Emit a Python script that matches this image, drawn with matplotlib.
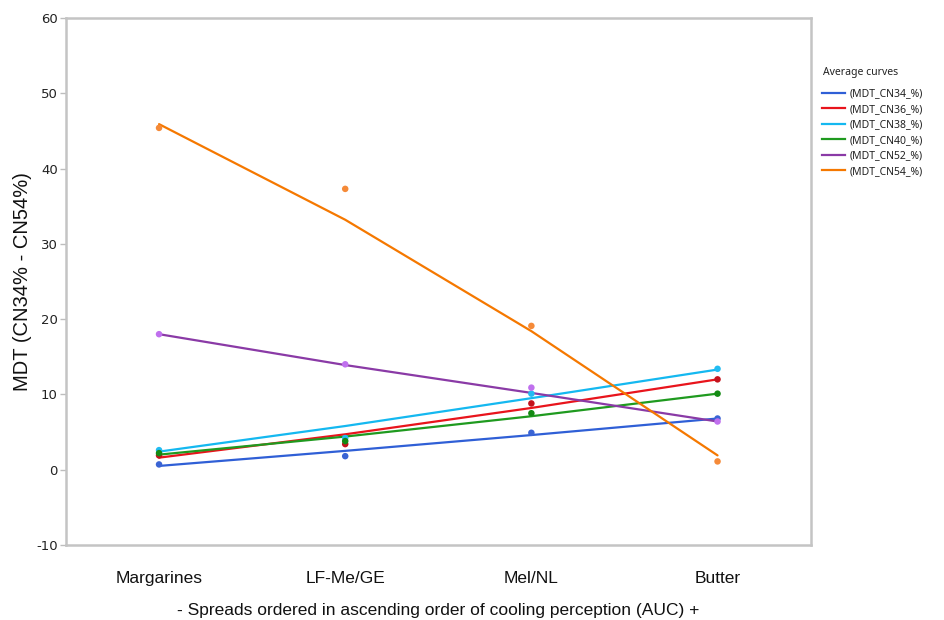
import matplotlib
matplotlib.use("Agg")
import matplotlib.pyplot as plt
from matplotlib.lines import Line2D

plt.rcParams["axes.unicode_minus"] = False

# ── Data ───────────────────────────────────────────────────────
categories = ["Margarines", "LF-Me/GE", "Mel/NL", "Butter"]
series = ["(MDT_CN34_%)", "(MDT_CN36_%)", "(MDT_CN38_%)",
          "(MDT_CN40_%)", "(MDT_CN52_%)", "(MDT_CN54_%)"]

# observed mean values (dots)
cn34_pts = [0.7, 1.8, 4.9, 6.8]
cn36_pts = [1.9, 3.4, 8.8, 12.0]
cn38_pts = [2.6, 4.2, 10.1, 13.4]
cn40_pts = [2.2, 3.8, 7.5, 10.1]
cn52_pts = [18.0, 14.0, 10.9, 6.4]
cn54_pts = [45.4, 37.3, 19.1, 1.1]

# average curves (lines)
cn34_fit = [0.5, 2.5, 4.6, 6.8]
cn36_fit = [1.6, 4.7, 8.2, 12.0]
cn38_fit = [2.4, 5.8, 9.5, 13.3]
cn40_fit = [2.0, 4.4, 7.1, 10.1]
cn52_fit = [18.0, 13.9, 10.2, 6.4]
cn54_fit = [45.9, 33.2, 18.4, 1.9]

line_colors = ["#2f5fd6", "#e8141c", "#14b8f0", "#1f9a1f", "#8a3aa6", "#f57800"]
dot_colors = ["#3a64d4", "#c4121c", "#22bcf2", "#138a13", "#c070ee", "#f58a38"]

pts = [cn34_pts, cn36_pts, cn38_pts, cn40_pts, cn52_pts, cn54_pts]
fits = [cn34_fit, cn36_fit, cn38_fit, cn40_fit, cn52_fit, cn54_fit]

x = list(range(1, len(categories) + 1))

fig = plt.figure(figsize=(9.45, 6.2), dpi=100)
ax = fig.add_axes([0.0698, 0.121, 0.788, 0.850])

for p, f, lc, dc in zip(pts, fits, line_colors, dot_colors):
    ax.plot(x, f, color=lc, lw=1.6, solid_capstyle="round", zorder=2)
    ax.scatter(x, p, s=22, color=dc, edgecolors="none", zorder=3)

ax.set_xlim(0.5, 4.5)
ax.set_ylim(-10, 60)
ax.set_yticks(range(-10, 61, 10))
ax.set_xticks(x)
ax.set_xticklabels(categories, fontsize=12.5, family="Liberation Sans")
ax.tick_params(axis="x", length=0, pad=19, colors="#111111")
ax.tick_params(axis="y", length=4, width=1, color="#bdbdbd", labelsize=9.5,
               labelcolor="#222222", pad=2)

for s in ax.spines.values():
    s.set_color("#c4c4c4")
    s.set_linewidth(1.8)

ax.set_ylabel("MDT (CN34% - CN54%)", fontsize=14.5, family="Liberation Sans",
              color="#111111", labelpad=3)
ax.set_xlabel("- Spreads ordered in ascending order of cooling perception (AUC) +",
              fontsize=12.5, family="Liberation Sans",
              color="#111111", labelpad=12)

fig.text(823 / 945, 1 - 72 / 620, "Average curves", fontsize=7.5,
         family="Noto Sans", color="#222222", va="center", ha="left")
handles = [Line2D([0], [0], color=c, lw=1.6) for c in line_colors]
leg = fig.legend(handles, series, loc="upper left",
                 bbox_to_anchor=(0.862, 1 - 81 / 620), frameon=False,
                 prop={"family": "Noto Sans", "size": 7.5},
                 handlelength=2.2, handletextpad=0.5, labelspacing=0.43,
                 borderpad=0.2)
for t in leg.get_texts():
    t.set_color("#222222")

fig.savefig("out.png", dpi=100)
